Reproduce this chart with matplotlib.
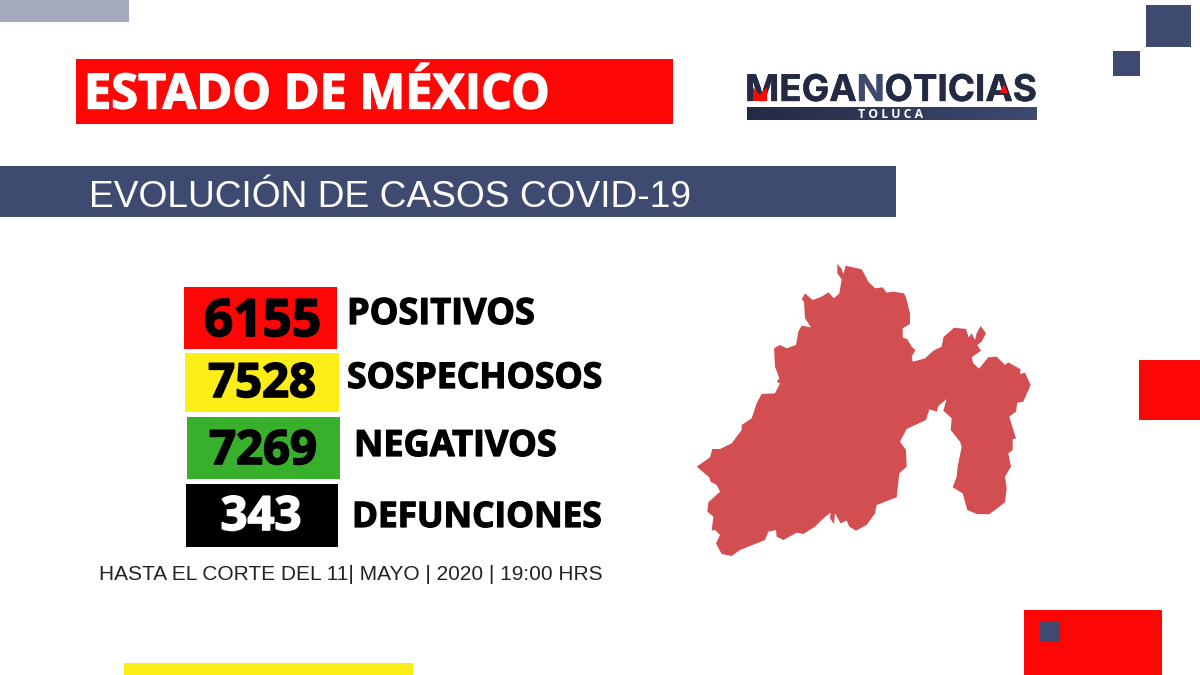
import matplotlib
matplotlib.use("Agg")
import matplotlib.pyplot as plt
import matplotlib.patheffects as pe
from matplotlib.patches import Rectangle, Polygon
import numpy as np

NAVY = "#3f4a70"
DARK = "#252a44"
RED = "#fe0606"

values = ["6155", "7528", "7269", "343"]
labels = ["POSITIVOS", "SOSPECHOSOS", "NEGATIVOS", "DEFUNCIONES"]
box_colors = ["#fe0606", "#fdee17", "#38b02c", "#000000"]
num_colors = ["black", "black", "black", "white"]

title = "ESTADO DE MÉXICO"
subtitle = "EVOLUCIÓN DE CASOS COVID-19"
footer = "HASTA EL CORTE DEL 11| MAYO | 2020 | 19:00 HRS"

map_x = [472,484,490,497,545,553,565,585,608,620,640,672,678,690,690,668,668,682,695,706,695,698,718,735,760,785,790,822,858,866,875,885,890,902,918,905,892,903,875,880,897,925,950,975,985,1022,1020,1035,1052,1030,1012,1008,988,1000,1008,998,998,985,993,975,980,975,928,890,862,848,818,830,833,845,840,812,815,790,800,775,770,748,738,680,660,678,680,658,650,590,585,560,528,508,500,482,465,462,450,452,432,405,370,350,310,290,288,265,255,180,155,125,108,120,105,95,100,82,85,120,110,92,88,50,90,97,120,155,185,185,215,230,245,285,300,290,298,285,282,300,320,348,355,365,393,375,372,365,375,398,425,445,462,478,485,472]
map_y = [42,55,72,47,58,72,95,115,112,128,125,130,142,190,222,235,262,268,290,300,320,335,330,325,302,290,262,233,237,262,250,270,250,228,250,275,285,302,322,340,356,322,320,345,337,358,372,368,405,455,458,485,500,540,565,568,600,610,650,680,715,757,793,792,780,730,712,680,650,590,575,540,505,482,447,468,485,478,510,537,575,600,650,670,742,765,790,825,842,830,812,820,790,822,805,788,803,830,852,848,870,860,840,845,870,900,918,912,880,855,840,842,800,785,757,725,705,695,682,650,622,597,597,580,540,525,505,460,432,430,400,395,385,350,295,285,295,285,245,227,232,205,155,148,130,150,140,127,145,130,88,70]

fig = plt.figure(figsize=(12, 6.75), dpi=100)
ax = fig.add_axes([0, 0, 1, 1])
ax.set_xlim(0, 1200)
ax.set_ylim(675, 0)
ax.axis("off")


def box(x0, y0, x1, y1, color):
    ax.add_patch(Rectangle((x0, y0), x1 - x0, y1 - y0, fc=color, ec="none"))


def heavy(x, y, s, size, color="black", stroke=0.8, ha="left", family="Open Sans"):
    t = ax.text(x, y, s, fontsize=size, color=color, ha=ha, va="baseline",
                family=family, weight="bold")
    t.set_path_effects([pe.withStroke(linewidth=stroke, foreground=color)])
    return t


# decoration
box(0, 0, 129, 22, "#a4a9bd")
box(1146, 5, 1191, 47, NAVY)
box(1113, 51, 1140, 76, NAVY)
box(1139, 360, 1200, 420, RED)
box(1024, 610, 1162, 675, RED)
box(1040, 622, 1060, 642, NAVY)
box(124, 663, 413, 675, "#fdee17")

# headers
box(76, 59, 673, 124, RED)
heavy(84, 108.5, title, 35, "white", 1.0)
box(0, 166, 896, 217, NAVY)
ax.text(89, 207, subtitle, fontsize=26.7, color="white", family="Liberation Sans", va="baseline")

# counts
box_x = [(184, 337), (185, 339), (187, 340), (186, 338)]
box_y = [(287, 349), (353, 412), (417, 479), (484, 547)]
num_x = [262.5, 262, 263, 261]
num_y = [336, 397, 464, 530]
num_size = [37, 34, 34, 34]
label_x = [347, 347, 354, 352]
label_y = [324, 388, 456, 527]
label_size = [26, 25.6, 26, 25.3]
for i in range(4):
    box(box_x[i][0], box_y[i][0], box_x[i][1], box_y[i][1], box_colors[i])
    heavy(num_x[i], num_y[i], values[i], num_size[i], num_colors[i], 1.2, ha="center")
    heavy(label_x[i], label_y[i], labels[i], label_size[i], "black", 0.9)

ax.text(99, 580, footer, fontsize=15.05, color="#222222", family="Liberation Sans", va="baseline")

# map
pts = np.column_stack([680 + np.array(map_x) / 3, 250 + np.array(map_y) / 3])
ax.add_patch(Polygon(pts, closed=True, fc="#d24e50", ec="none"))

# logo, pieces placed one after the other
rend = fig.canvas.get_renderer()
inv = ax.transData.inverted()
x = 745
for part, col in [("MEGA", DARK), ("N", NAVY), ("OTICIAS", DARK)]:
    t = heavy(x, 101, part, 26.5, col, 0.3, family="Inter")
    bb = t.get_window_extent(rend)
    x = inv.transform((bb.x1, bb.y0))[0]
ax.add_patch(Polygon([(753, 101), (753, 87), (760, 95), (767, 87), (767, 101)], fc=RED, ec="none", zorder=4))
ax.add_patch(Polygon([(1000, 93), (1004, 84), (1008, 93)], fc=RED, ec="none", zorder=4))

grad = np.linspace(0, 1, 256).reshape(1, -1)
cmap = matplotlib.colors.LinearSegmentedColormap.from_list("bar", [DARK, NAVY])
ax.imshow(grad, extent=(747, 1037, 120, 107), cmap=cmap, aspect="auto", zorder=2)
ax.set_xlim(0, 1200)
ax.set_ylim(675, 0)
ax.text(891, 114, "T O L U C A", fontsize=8.8, color="white", family="Open Sans", weight="bold",
        ha="center", va="center", zorder=3)

fig.savefig("out.png", dpi=100)
